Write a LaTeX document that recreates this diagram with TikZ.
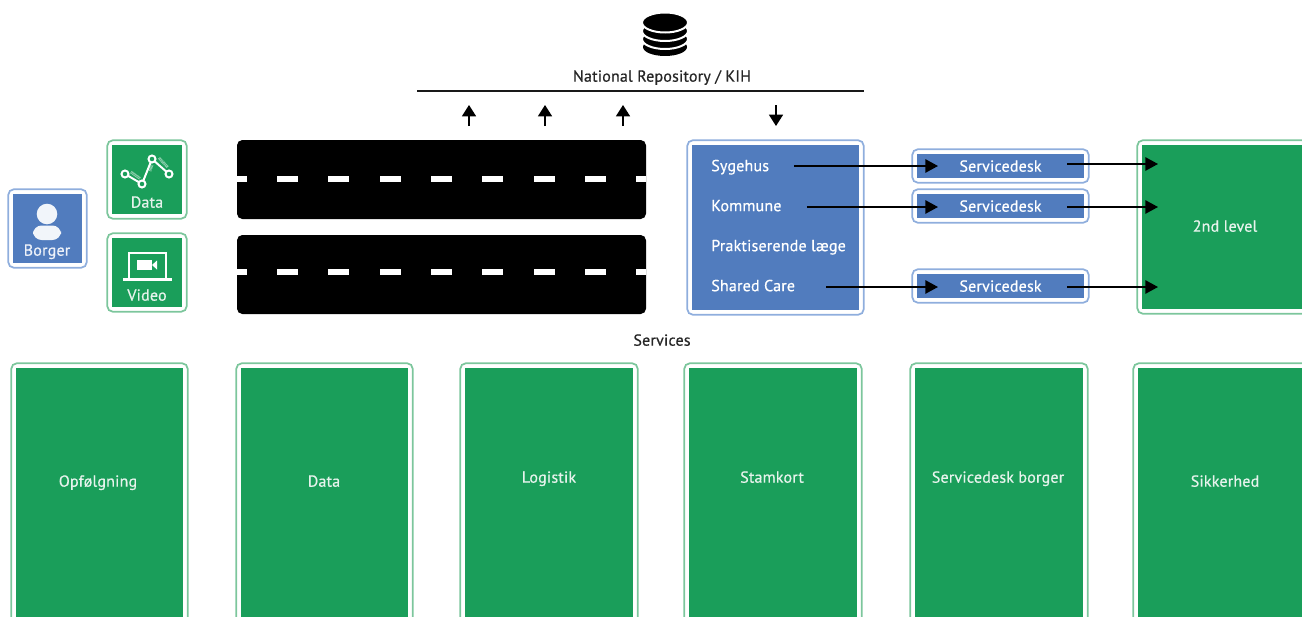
\documentclass[tikz,border=0pt]{standalone}
\usepackage{fontspec}
\setmainfont[RawFeature={embolden=0.6}, LetterSpace=1.2]{PT Sans}
\usepackage{xcolor}
\usetikzlibrary{arrows.meta, positioning, calc, fit}
\definecolor{grn}{HTML}{1A9E5A}
\definecolor{grnring}{HTML}{7CC69C}
\definecolor{blu}{HTML}{517CBE}
\definecolor{bluring}{HTML}{8FAEDD}
\definecolor{lighttxt}{HTML}{E6F3EC}

\begin{document}
\begin{tikzpicture}[
    x=0.75pt, y=-0.75pt,
    sized/.style 2 args={minimum width=#1*0.75pt, minimum height=#2*0.75pt, inner sep=0pt, outer sep=0pt},
    base/.style={font=\fontsize{12}{13}\selectfont, text height=8.5pt, text depth=0pt},
    greenbox/.style={fill=grn, base, text=lighttxt},
    bluebox/.style={fill=blu, base, text=white},
    road/.style={fill=black, rounded corners=4pt},
    greenring/.style={draw=grnring, line width=1.3pt, rounded corners=4pt, inner sep=3.5pt, outer sep=0pt},
    bluering/.style={draw=bluring, line width=1.3pt, rounded corners=4pt, inner sep=3.5pt, outer sep=0pt},
    paneltxt/.style={base, text=white, inner sep=0pt, anchor=west},
    boxtxt/.style={base, text=lighttxt, inner sep=0pt},
    plaintxt/.style={base, text=black!85, inner sep=0pt},
    edge/.style={-{Triangle[length=9.5pt, width=10pt]}, line width=1.3pt},
    uparrow/.style={-{Triangle[length=8.5pt, width=10.5pt]}, line width=1.1pt}
]
    \useasboundingbox (0,0) rectangle (1302,617);
    \clip (0,0) rectangle (1302,617);

    % repository
    \fill[black] (665,47) ellipse [x radius=22, y radius=9];
    \filldraw[fill=black, draw=white, line width=1.5pt] (665,39) ellipse [x radius=23, y radius=10];
    \filldraw[fill=black, draw=white, line width=1.5pt] (665,31) ellipse [x radius=23, y radius=10];
    \filldraw[fill=black, draw=white, line width=1.5pt] (665,22.5) ellipse [x radius=23, y radius=10];
    \node[plaintxt] (repo) at (662,76) {National Repository / KIH};
    \coordinate (barleft) at (417,91);
    \coordinate (barright) at (864,91);
    \draw[line width=1.5pt, black!90] (barleft) -- (barright);

    % up and down arrows
    \coordinate (upa) at (469,126);
    \coordinate (upb) at (545,126);
    \coordinate (upc) at (623,126);
    \coordinate (dna) at (776,105);
    \draw[uparrow] (upa) -- ++(0,-21);
    \draw[uparrow] (upb) -- ++(0,-21);
    \draw[uparrow] (upc) -- ++(0,-21);
    \draw[uparrow] (dna) -- ++(0,21);

    % borger, data, video
    \node[bluebox, sized={69}{69}] (borger) at (47.5,228.5) {};
    \node[bluering, fit=(borger)] (borgerring) {};
    \fill[white!92!blu] (47,214) circle [radius=10.3];
    \fill[white!92!blu, rounded corners=6.5pt] (33,225.5) rectangle (61,240);
    \node[boxtxt, text=white!90!blu] (borgertxt) at (47,250) {Borger};

    \node[greenbox, sized={70}{69}] (data) at (147,179.5) {};
    \node[greenring, fit=(data)] (dataring) {};
    \draw[white!60!grn, line width=2.2pt, dash pattern=on 0.4pt off 0.5pt] (131,172) -- (140,178.5);
    \draw[white!60!grn, line width=2.2pt, dash pattern=on 0.4pt off 0.5pt] (150,171) -- (152,165);
    \draw[white!60!grn, line width=2.2pt, dash pattern=on 0.4pt off 0.5pt] (159,158) -- (168,167.5);
    \draw[white, line width=1.5pt] (125,174) -- (142,184) -- (152,159) -- (169,174);
    \foreach \px/\py in {125/174, 142/184, 152/159, 169/174}
        \filldraw[fill=grn, draw=white, line width=1.5pt] (\px,\py) circle [radius=3.5];
    \node[boxtxt] (datatxt) at (147,202) {Data};

    \node[greenbox, sized={70}{69}] (video) at (147,272.5) {};
    \node[greenring, fit=(video)] (videoring) {};
    \draw[white, line width=1.5pt] (129,278) -- (129,252.5) -- (165.5,252.5) -- (165.5,278);
    \draw[white, line width=2pt] (123,279.5) -- (172,279.5);
    \fill[white] (137,260) rectangle (152,270);
    \fill[white] (152,265) -- (157,260.5) -- (157,269.5) -- cycle;
    \node[boxtxt] (videotxt) at (147,295) {Video};

    % roads
    \node[road, sized={409}{79}] (roada) at (441.5,179.5) {};
    \node[road, sized={409}{79}] (roadb) at (441.5,274.5) {};
    \foreach \dx/\dw in {237/10, 277/21, 328/21, 380/21, 431/21, 482/21, 534/21, 585/21, 636/10} {
        \fill[white] (\dx,176) rectangle ++(\dw,6);
        \fill[white] (\dx,269) rectangle ++(\dw,6);
    }

    % organisations
    \node[bluebox, sized={167}{165}] (orgs) at (775.5,227.5) {};
    \node[bluering, fit=(orgs)] (orgsring) {};
    \node[paneltxt] (sygehus) at (711,165.5) {Sygehus};
    \node[paneltxt] (kommune) at (711,205.5) {Kommune};
    \node[paneltxt] (laege) at (711,245.5) {Praktiserende læge};
    \node[paneltxt] (shared) at (711,285.5) {Shared Care};

    % servicedesks
    \node[bluebox, sized={167}{24}] (deska) at (1000.5,166) {Servicedesk};
    \node[bluering, fit=(deska)] (deskaring) {};
    \node[bluebox, sized={167}{24}] (deskb) at (1000.5,206) {Servicedesk};
    \node[bluering, fit=(deskb)] (deskbring) {};
    \node[bluebox, sized={167}{24}] (deskc) at (1000.5,286) {Servicedesk};
    \node[bluering, fit=(deskc)] (deskcring) {};

    % 2nd level
    \node[greenbox, sized={180}{164}] (second) at (1232,227) {};
    \node[greenring, fit=(second)] (secondring) {};
    \node[boxtxt] (secondtxt) at (1225,226) {2nd level};
    \coordinate (seca) at (1158,164);
    \coordinate (secb) at (1158,207);
    \coordinate (secc) at (1158,287);

    \draw[edge] ($(sygehus.east)+(25,0.5)$) -- ($(deska.west)+(21,0)$);
    \draw[edge] ($(kommune.east)+(25,1.5)$) -- ($(deskb.west)+(21,1)$);
    \draw[edge] ($(shared.east)+(31,1.5)$) -- ($(deskc.west)+(21,1)$);
    \draw[edge] ($(deska.east)+(-17,-2)$) -- (seca);
    \draw[edge] ($(deskb.east)+(-17,1)$) -- (secb);
    \draw[edge] ($(deskc.east)+(-17,1)$) -- (secc);

    % services
    \node[plaintxt] (services) at (662,340) {Services};

    \node[greenbox, sized={167}{280}] (opf) at (99.5,508) {};
    \node[greenring, fit=(opf)] (opfring) {};
    \node[boxtxt] (opftxt) at (98,481) {Opfølgning};

    \node[greenbox, sized={167}{280}] (dataserv) at (324.5,508) {};
    \node[greenring, fit=(dataserv)] (dataservring) {};
    \node[boxtxt] (dataservtxt) at (324,481) {Data};

    \node[greenbox, sized={168}{280}] (logistik) at (549,508) {};
    \node[greenring, fit=(logistik)] (logistikring) {};
    \node[boxtxt] (logistiktxt) at (549,477) {Logistik};

    \node[greenbox, sized={168}{280}] (stamkort) at (773,508) {};
    \node[greenring, fit=(stamkort)] (stamkortring) {};
    \node[boxtxt] (stamkorttxt) at (772,477) {Stamkort};

    \node[greenbox, sized={168}{280}] (borgerdesk) at (999,508) {};
    \node[greenring, fit=(borgerdesk)] (borgerdeskring) {};
    \node[boxtxt] (borgerdesktxt) at (998,477) {Servicedesk borger};

    \node[greenbox, sized={180}{280}] (sikkerhed) at (1228,508) {};
    \node[greenring, fit=(sikkerhed)] (sikkerhedring) {};
    \node[boxtxt] (sikkerhedtxt) at (1225,481) {Sikkerhed};
\end{tikzpicture}
\end{document}
